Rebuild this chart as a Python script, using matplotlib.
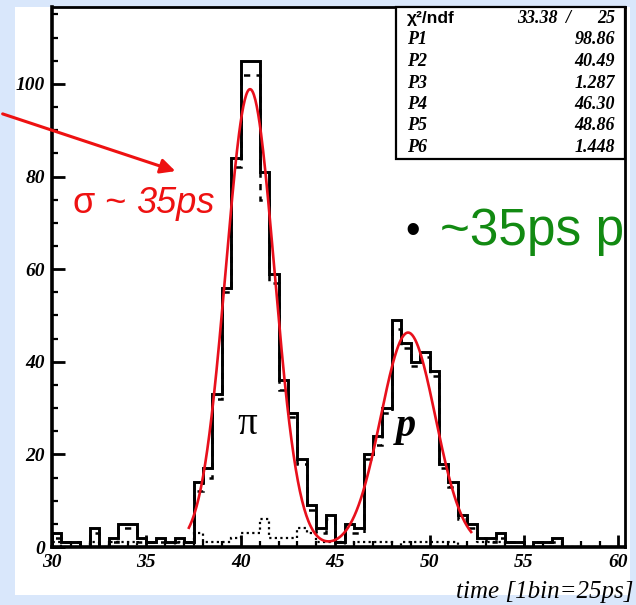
"""TOF time spectrum with double-gaussian fit (pi / p), ROOT-style slide figure."""
import numpy as np
import matplotlib
matplotlib.use('Agg')
import matplotlib.pyplot as plt
import matplotlib.patches as mpatches
from matplotlib.ticker import MultipleLocator

# ── Data ──────────────────────────────────────────────────────────────────────
bin_lo, bin_hi, bin_w = 30.0, 60.0, 0.5

counts_all = [3, 1, 1, 0, 4, 0, 2, 5, 5, 2,
              1, 2, 1, 2, 1, 14, 17, 33, 56, 84,
              105, 105, 81, 59, 36, 29, 19, 9, 4, 7,
              1, 5, 4, 20, 24, 30, 49, 44, 40, 42,
              38, 18, 14, 7, 5, 2, 2, 3, 1, 1,
              0, 1, 1, 2, 0, 0, 0, 0, 0, 0]
counts_sel = [2, 1, 1, 0, 3, 0, 1, 4, 4, 1,
              1, 1, 1, 1, 1, 12, 15, 32, 55, 82,
              102, 102, 75, 57, 34, 28, 18, 8, 3, 6,
              1, 3, 3, 19, 22, 29, 47, 43, 39, 41,
              37, 17, 13, 6, 4, 2, 1, 2, 1, 1,
              0, 1, 1, 1, 0, 0, 0, 0, 0, 0]
counts_bkg = [1, 0, 0, 0, 1, 0, 1, 1, 1, 0,
              0, 0, 0, 1, 0, 3, 1, 1, 1, 2,
              3, 3, 6, 2, 2, 2, 4, 3, 1, 1,
              1, 0, 1, 1, 1, 1, 0, 1, 1, 1,
              1, 1, 1, 0, 0, 1, 1, 1, 0, 0,
              0, 0, 0, 0, 0, 0, 0, 0, 0, 0]

fit_names = ['P1', 'P2', 'P3', 'P4', 'P5', 'P6']
fit_pars = [98.86, 40.49, 1.287, 46.30, 48.86, 1.448]
fit_labels = ['98.86', '40.49', '1.287', '46.30', '48.86', '1.448']
chi2_text, ndf_text = '33.38', '25'
fit_range = (37.25, 52.2)

edges = np.arange(bin_lo, bin_hi + bin_w / 2, bin_w)

W, H = 636, 605
def fx(px):
    return px / W
def fy(py):
    return 1 - py / H

fig = plt.figure(figsize=(W / 100, H / 100), dpi=100)
fig.patch.set_facecolor('#d9e7fb')

# white slide pad behind the ROOT canvas
fig.patches.append(mpatches.Rectangle((fx(15), fy(595)), fx(630) - fx(15), fy(7) - fy(595),
                                      transform=fig.transFigure, facecolor='white',
                                      edgecolor='none', zorder=-1))

ax = fig.add_axes([fx(52), fy(547), fx(625) - fx(52), fy(7) - fy(547)])
ax.set_zorder(1)
ax.set_facecolor('white')

ax.stairs(counts_bkg, edges, color='black', linewidth=1.6, linestyle=(0, (1, 1.5)), zorder=2)
ax.stairs(counts_sel, edges, color='black', linewidth=1.8, linestyle=(0, (2.5, 2.5)), zorder=3)
ax.stairs(counts_all, edges, color='black', linewidth=2.1, zorder=4)

p1, p2, p3, p4, p5, p6 = fit_pars
xf = np.linspace(fit_range[0], fit_range[1], 400)
yf = p1 * np.exp(-0.5 * ((xf - p2) / p3) ** 2) + p4 * np.exp(-0.5 * ((xf - p5) / p6) ** 2)
ax.plot(xf, yf, color='#e8101c', linewidth=1.9, zorder=5)

ax.set_xlim(30, 60.35)
ax.set_ylim(0, 116.6)

ax.xaxis.set_major_locator(MultipleLocator(5))
ax.xaxis.set_minor_locator(MultipleLocator(1))
ax.yaxis.set_major_locator(MultipleLocator(20))
ax.yaxis.set_minor_locator(MultipleLocator(5))
ax.tick_params(which='both', direction='in', top=False, right=False, color='black')
ax.tick_params(which='major', length=9, width=2.0)
ax.tick_params(which='minor', length=4.5, width=1.6)
ax.tick_params(axis='x', pad=5)
ax.tick_params(axis='y', pad=5)
for lab in ax.get_xticklabels() + ax.get_yticklabels():
    lab.set_family('Liberation Serif')
    lab.set_fontweight('bold')
    lab.set_fontstyle('italic')
    lab.set_fontsize(14)

for sp in ax.spines.values():
    sp.set_linewidth(2.0)
ax.spines['left'].set_linewidth(2.6)
ax.spines['bottom'].set_linewidth(2.6)

# particle labels
ax.text(40.35, 26.5, 'π', family='Liberation Serif', fontsize=28, ha='center', va='center', zorder=6)
ax.text(48.75, 26.0, 'p', family='Liberation Serif', fontsize=29, fontweight='bold',
        fontstyle='italic', ha='center', va='center', zorder=6)

# x axis title
fig.text(fx(634), fy(598), 'time [1bin=25ps]', family='Liberation Serif', fontstyle='italic',
         fontsize=18, ha='right', va='baseline')

# ── Stats box ────────────────────────────────────────────────────────────────
fig.patches.append(mpatches.Rectangle((fx(396), fy(159)), fx(625) - fx(396), fy(7) - fy(159),
                                      transform=fig.transFigure, facecolor='white',
                                      edgecolor='black', linewidth=1.6, zorder=5))
row_y = [18.5, 40, 61.5, 83, 104.5, 126, 147.5]
fig.text(fx(407), fy(row_y[0]), 'χ²/ndf', family='Liberation Sans', fontweight='bold',
         fontsize=12.5, ha='left', va='center', zorder=6)
stat_font = dict(family='Liberation Serif', fontweight='bold', fontstyle='italic',
                 fontsize=13, va='center', zorder=6)
fig.text(fx(558), fy(row_y[0]), chi2_text, ha='right', **stat_font)
fig.text(fx(568), fy(row_y[0]), '/', ha='center', **stat_font)
fig.text(fx(615), fy(row_y[0]), ndf_text, ha='right', **stat_font)
for i, (name, val) in enumerate(zip(fit_names, fit_labels)):
    fig.text(fx(407), fy(row_y[i + 1]), name, ha='left', **stat_font)
    fig.text(fx(615), fy(row_y[i + 1]), val, ha='right', **stat_font)

# ── Slide annotations ─────────────────────────────────────────────────────────
fig.add_artist(mpatches.FancyArrowPatch((fx(0), fy(113)), (fx(178), fy(172)),
                                        transform=fig.transFigure, arrowstyle='-|>',
                                        mutation_scale=22, color='#ee1111', linewidth=2.2,
                                        zorder=7))
fig.text(fx(73), fy(213), 'σ ~ ', color='#ee1111', family='Liberation Sans',
         fontsize=26, ha='left', va='baseline', zorder=7)
fig.text(fx(136), fy(213), '35ps', color='#ee1111', family='Liberation Sans',
         fontsize=26, fontstyle='italic', ha='left', va='baseline', zorder=7)

fig.text(fx(405), fy(243), '•', color='black', family='Liberation Sans',
         fontsize=30, ha='left', va='baseline', zorder=7)
fig.text(fx(440), fy(245), '~35ps p', color='#128a12', family='Liberation Sans',
         fontsize=37, ha='left', va='baseline', zorder=7)

fig.savefig('out.png', dpi=100, facecolor=fig.get_facecolor())
